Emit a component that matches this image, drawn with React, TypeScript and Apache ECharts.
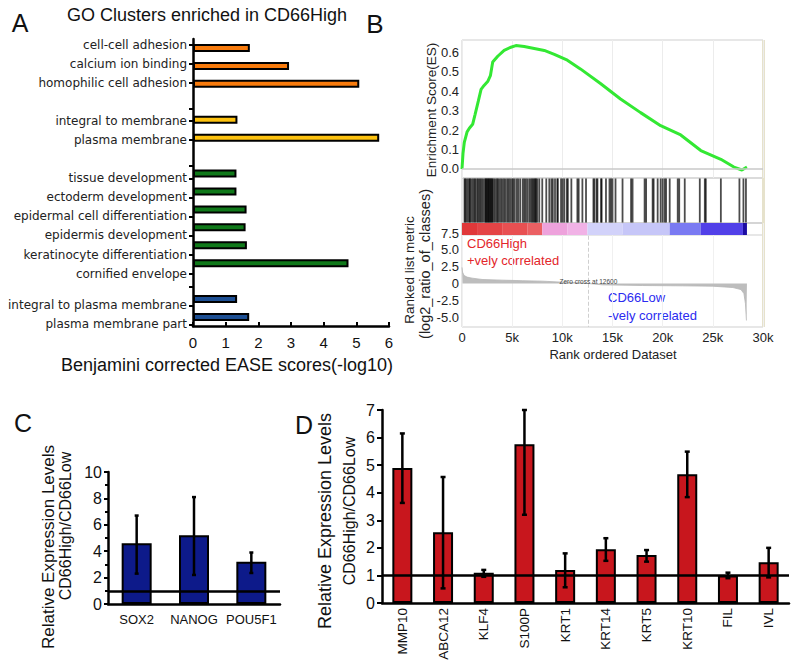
import React, { useEffect, useRef } from 'react';
import * as echarts from 'echarts';

// ---------- Panel A: GO clusters ----------
const goTerms = [
  'cell-cell adhesion', 'calcium ion binding', 'homophilic cell adhesion',
  'integral to membrane', 'plasma membrane',
  'tissue development', 'ectoderm development', 'epidermal cell differentiation',
  'epidermis development', 'keratinocyte differentiation', 'cornified envelope',
  'integral to plasma membrane', 'plasma membrane part',
];
const goScores = [1.74, 2.94, 5.09, 1.36, 5.7, 1.33, 1.33, 1.64, 1.61, 1.65, 4.76, 1.35, 1.72];
const goGroup = [0, 0, 0, 1, 1, 2, 2, 2, 2, 2, 2, 3, 3];
const goGroupColors = ['#f87b0d', '#fdc20f', '#10791a', '#1d4f93'];
const goBarSlots = [0, 1, 2, 4, 5, 7, 8, 9, 10, 11, 12, 14, 15];
const goBarSlotCount = 16;
const goLabelSlots = [0, 3, 6, 12, 15, 21, 24, 27, 30, 33, 36, 41, 44];
const goLabelSlotCount = 45;
const goGapTickSlots = [10, 19, 38];

// ---------- Panel B: GSEA ----------
const esRankK = [0, 0.1, 0.23, 0.5, 0.73, 1.06, 1.3, 1.63, 1.9, 2.2, 2.56, 2.83, 3.06, 3.56, 4.2, 4.8, 5.37, 6.2, 7.2, 8.2, 9.2, 10.5, 11.8, 13.8, 15.8, 17.8, 19.8, 21.8, 23.8, 25.8, 27.1, 27.9, 28.4];
const esValues = [0.0, 0.08, 0.137, 0.19, 0.21, 0.23, 0.28, 0.35, 0.41, 0.43, 0.45, 0.48, 0.55, 0.58, 0.61, 0.625, 0.635, 0.63, 0.62, 0.61, 0.59, 0.56, 0.515, 0.44, 0.36, 0.29, 0.223, 0.175, 0.095, 0.05, 0.01, -0.005, 0.01];
const esTickValues = [0, 0.1, 0.2, 0.3, 0.4, 0.5, 0.6];

const hitRankK = [
  0.25, 0.33, 0.45, 0.6, 0.75, 0.8, 0.95, 1.1, 1.25, 1.33, 1.5, 1.62, 1.75, 1.86, 2.0, 2.15,
  2.3, 2.38, 2.45, 2.52, 2.6, 2.68, 2.75, 2.83, 2.9, 3.0, 3.06, 3.2, 3.35, 3.49, 3.6, 3.75,
  3.9, 4.05, 4.2, 4.35, 4.52, 4.65, 4.8, 4.98, 5.1, 5.25, 5.45, 5.6, 5.8, 6.05, 6.2, 6.35,
  6.51, 6.7, 6.85, 6.98, 7.1, 7.21, 7.3, 7.38, 7.5, 7.7,
  8.0, 8.4, 8.7, 8.91, 9.05, 9.27, 9.5, 9.55, 9.87, 10.03, 10.2, 10.45, 10.55, 10.9, 11.5,
  11.63, 12.0, 12.36, 13.1, 13.2, 13.42, 13.5, 13.86, 13.92, 14.35, 14.7,
  14.85, 15.0, 15.3, 16.0, 16.85, 17.0, 18.2, 18.35, 19.0, 19.1, 19.5, 19.8, 20.0, 20.2,
  20.34, 20.7, 21.5, 21.65, 22.2, 23.7, 24.2, 24.3, 25.8, 27.65, 28.05, 28.3,
];

const bandStartK = [0, 1.5, 4, 6.5, 8, 10.5, 12.5, 16, 20.7, 23.8, 28.0];
const bandEndK = [1.5, 4, 6.5, 8, 10.5, 12.5, 16, 20.7, 23.8, 28.0, 28.4];
const bandColors = ['#e0383a', '#e44446', '#e85052', '#eb6063', '#eea2dc', '#f1b2e6', '#d2d2fa', '#c6c6f8', '#7a7af2', '#5140e8', '#1c0ca2'];

const metricRankK = [0, 0.05, 0.2, 0.5, 1, 2, 4, 6, 8, 10, 12, 12.6, 14, 18, 22, 25, 27, 27.8, 28.1, 28.25, 28.35, 28.4];
const metricValues = [2.4, 1.7, 1.2, 0.95, 0.8, 0.6, 0.5, 0.42, 0.35, 0.2, 0.08, 0, -0.2, -0.3, -0.35, -0.4, -0.6, -0.9, -1.5, -3, -5.5, -5.5];
const metricTickValues = [-5, -2.5, 0, 2.5, 5, 7.5];
const zeroCrossK = 12.6;
const rankTicksK = [0, 5, 10, 15, 20, 25, 30];

// ---------- Panel C ----------
const cGenes = ['SOX2', 'NANOG', 'POU5F1'];
const cMeans = [4.6, 5.2, 3.2];
const cLow = [2.3, 2.2, 2.35];
const cHigh = [6.7, 8.1, 3.9];

// ---------- Panel D ----------
const dGenes = ['MMP10', 'ABCA12', 'KLF4', 'S100P', 'KRT1', 'KRT14', 'KRT5', 'KRT10', 'FIL', 'IVL'];
const dMeans = [4.9, 2.57, 1.1, 5.76, 1.2, 1.95, 1.74, 4.67, 1.0, 1.48];
const dLow = [3.63, 0.53, 0.95, 3.2, 0.57, 1.53, 1.5, 3.84, 0.9, 0.93];
const dHigh = [6.15, 4.57, 1.2, 7.0, 1.8, 2.35, 1.92, 5.49, 1.1, 2.0];

const FONT = 'Liberation Sans, Arial, sans-serif';

function errorRenderer(capHalf: number) {
  return (params: any, api: any) => {
    const i = api.value(0);
    const lo = api.value(1);
    const hi = api.value(2);
    const top = api.coord([i, hi]);
    const bot = api.coord([i, lo]);
    const st = { stroke: '#000', lineWidth: 2.5 };
    return {
      type: 'group',
      children: [
        { type: 'line', shape: { x1: top[0], y1: top[1], x2: bot[0], y2: bot[1] }, style: st },
        { type: 'line', shape: { x1: top[0] - capHalf, y1: top[1], x2: top[0] + capHalf, y2: top[1] }, style: st },
        { type: 'line', shape: { x1: bot[0] - capHalf, y1: bot[1], x2: bot[0] + capHalf, y2: bot[1] }, style: st },
      ],
    };
  };
}

function buildOption() {
  const barCats = Array.from({ length: goBarSlotCount }, (_, s) => 'slot' + s);
  const barData: any[] = Array.from({ length: goBarSlotCount }, () => '-');
  goTerms.forEach((_, i) => {
    barData[goBarSlots[i]] = { value: goScores[i], itemStyle: { color: goGroupColors[goGroup[i]] } };
  });
  const labelCats = Array.from({ length: goLabelSlotCount }, (_, s) => 'l' + s);
  const labelMap: Record<number, string> = {};
  goLabelSlots.forEach((s, i) => (labelMap[s] = goTerms[i]));
  const tickSet = new Set<number>([...goLabelSlots, ...goGapTickSlots]);

  const kFmt = (v: number) => (v === 0 ? '0' : v + 'k');
  const hiddenX = (gi: number, split = false) => ({
    type: 'value', gridIndex: gi, min: 0, max: 30, interval: 5,
    axisLine: { show: false }, axisTick: { show: false }, axisLabel: { show: false },
    splitLine: { show: split, lineStyle: { color: '#ececec', width: 1 } },
  });

  return {
    animation: false,
    textStyle: { fontFamily: FONT },
    grid: [
      { left: 193, top: 39, width: 196, height: 287 },
      { left: 193, top: 41.8, width: 196, height: 285.75 },
      { left: 462, top: 40, width: 301, height: 138, show: true, borderColor: '#cfcfcf', borderWidth: 1 },
      { left: 462, top: 178, width: 301, height: 45, show: true, borderColor: '#cfcfcf', borderWidth: 1 },
      { left: 462, top: 223, width: 301, height: 12, show: true, borderColor: '#cfcfcf', borderWidth: 1 },
      { left: 462, top: 223, width: 301, height: 104, show: true, borderColor: '#cfcfcf', borderWidth: 1 },
      { left: 108, top: 472, width: 172, height: 132 },
      { left: 382, top: 410, width: 407, height: 193 },
    ],
    xAxis: [
      {
        type: 'value', gridIndex: 0, min: 0, max: 6, interval: 1,
        axisLine: { show: true, lineStyle: { color: '#000', width: 2.5 } },
        axisTick: { show: true, inside: true, length: 4, lineStyle: { color: '#000', width: 2 } },
        axisLabel: { fontSize: 15, color: '#111', margin: 9, fontFamily: FONT },
        splitLine: { show: false },
      },
      { type: 'value', gridIndex: 1, min: 0, max: 1, show: false },
      hiddenX(2, true),
      hiddenX(3),
      hiddenX(4),
      {
        type: 'value', gridIndex: 5, min: 0, max: 30, interval: 5,
        axisLine: { show: false }, axisTick: { show: false },
        axisLabel: { fontSize: 13, color: '#222', margin: 4, formatter: kFmt, fontFamily: FONT,
          customValues: rankTicksK },
        splitLine: { show: true, lineStyle: { color: '#f0f0f0' } },
      },
      {
        type: 'category', gridIndex: 6, data: cGenes,
        axisLine: { show: true, lineStyle: { color: '#000', width: 2.5 } },
        axisTick: { show: false },
        axisLabel: { fontSize: 13, color: '#111', margin: 9, interval: 0, fontFamily: FONT },
      },
      {
        type: 'category', gridIndex: 7, data: dGenes,
        axisLine: { show: true, lineStyle: { color: '#000', width: 2.5 } },
        axisTick: { show: false },
        axisLabel: { fontSize: 13.5, color: '#111', margin: 5, rotate: 90, interval: 0, fontFamily: FONT },
      },
    ],
    yAxis: [
      {
        type: 'category', gridIndex: 0, data: barCats, inverse: true,
        axisLine: { show: true, lineStyle: { color: '#000', width: 2.5 } },
        axisTick: { show: false }, axisLabel: { show: false },
      },
      {
        type: 'category', gridIndex: 1, data: labelCats, inverse: true,
        axisLine: { show: false },
        axisTick: {
          show: true, length: 4, alignWithLabel: true,
          interval: (index: number) => tickSet.has(index),
          lineStyle: { color: '#000', width: 2 },
        },
        axisLabel: {
          show: true, interval: 0, margin: 6, fontSize: 12, color: '#222',
          fontFamily: 'DejaVu Sans',
          formatter: (_v: string, index: number) => labelMap[index] ?? '',
        },
      },
      {
        type: 'value', gridIndex: 2, min: -0.0463, max: 0.6636,
        axisLine: { show: false }, axisTick: { show: false },
        axisLabel: { fontSize: 13, color: '#222', margin: 3, customValues: esTickValues,
          formatter: (v: number) => v.toFixed(1), fontFamily: FONT },
        splitLine: { show: false },
      },
      { type: 'value', gridIndex: 3, min: 0, max: 1, show: false },
      { type: 'value', gridIndex: 4, min: 0, max: 1, show: false },
      {
        type: 'value', gridIndex: 5, min: -6.47, max: 9.0,
        axisLine: { show: false }, axisTick: { show: false },
        axisLabel: { fontSize: 13, color: '#222', margin: 3, customValues: metricTickValues,
          formatter: (v: number) => (v === 0 ? '0' : v.toFixed(1)), fontFamily: FONT },
        splitLine: { show: false },
      },
      {
        type: 'value', gridIndex: 6, min: 0, max: 10, interval: 2,
        axisLine: { show: true, lineStyle: { color: '#000', width: 2.5 } },
        axisTick: { show: true, length: 4, lineStyle: { color: '#000', width: 2 } },
        minorTick: { show: true, splitNumber: 2, length: 3, lineStyle: { color: '#000', width: 2 } },
        axisLabel: { fontSize: 16, color: '#111', margin: 6, fontFamily: FONT },
        splitLine: { show: false },
      },
      {
        type: 'value', gridIndex: 7, min: 0, max: 7, interval: 1,
        axisLine: { show: true, lineStyle: { color: '#000', width: 2.5 } },
        axisTick: { show: true, length: 5, lineStyle: { color: '#000', width: 2 } },
        axisLabel: { fontSize: 16, color: '#111', margin: 7, fontFamily: FONT },
        splitLine: { show: false },
      },
    ],
    series: [
      {
        type: 'bar', xAxisIndex: 0, yAxisIndex: 0, data: barData, barWidth: 8,
        itemStyle: { borderColor: '#000', borderWidth: 2 }, silent: true,
      },
      {
        type: 'line', xAxisIndex: 2, yAxisIndex: 2,
        data: esRankK.map((k, i) => [k, esValues[i]]),
        symbol: 'none', lineStyle: { color: '#33e833', width: 3 }, silent: true,
        markLine: {
          silent: true, symbol: ['none', 'none'], label: { show: false },
          lineStyle: { color: '#c8c8c8', width: 1.5, type: 'solid' },
          data: [{ yAxis: 0 }],
        },
      },
      {
        type: 'scatter', xAxisIndex: 3, yAxisIndex: 3,
        data: hitRankK.map((k) => [k, 0.5]),
        symbol: 'rect', symbolSize: [1.8, 44],
        itemStyle: { color: '#000', opacity: 0.7 }, silent: true,
      },
      {
        type: 'custom', xAxisIndex: 4, yAxisIndex: 4,
        data: bandStartK.map((s, i) => [s, bandEndK[i], i]),
        encode: { x: [0, 1] },
        renderItem: (_p: any, api: any) => {
          const a = api.coord([api.value(0), 1]);
          const b = api.coord([api.value(1), 0]);
          return {
            type: 'rect',
            shape: { x: a[0], y: a[1], width: b[0] - a[0], height: b[1] - a[1] },
            style: { fill: bandColors[api.value(2)] },
          };
        },
        silent: true,
      },
      {
        type: 'line', xAxisIndex: 5, yAxisIndex: 5,
        data: metricRankK.map((k, i) => [k, metricValues[i]]),
        symbol: 'none', lineStyle: { color: '#b5b5b5', width: 0.8 },
        areaStyle: { color: '#bdbdbd', opacity: 1 }, silent: true,
        markLine: {
          silent: true, symbol: ['none', 'none'], label: { show: false },
          lineStyle: { color: '#cfcfcf', width: 1, type: 'dashed' },
          data: [[{ coord: [zeroCrossK, 7.1] }, { coord: [zeroCrossK, -6.47] }]],
        },
        markPoint: {
          silent: true,
          data: [{
            coord: [zeroCrossK, 0.3], symbol: 'circle', symbolSize: 1,
            itemStyle: { color: 'rgba(0,0,0,0)' },
            label: { show: true, position: 'inside', formatter: 'Zero cross at 12600', fontSize: 6.5, color: '#444' },
          }],
        },
      },
      {
        type: 'bar', xAxisIndex: 6, yAxisIndex: 6, data: cMeans, barWidth: 30,
        itemStyle: { color: '#0d1a8a', borderColor: '#000', borderWidth: 2 }, silent: true,
        markLine: {
          silent: true, symbol: ['none', 'none'], label: { show: false },
          lineStyle: { color: '#000', width: 2.5, type: 'solid' },
          data: [{ yAxis: 1 }],
        },
      },
      {
        type: 'custom', xAxisIndex: 6, yAxisIndex: 6,
        data: cGenes.map((_, i) => [i, cLow[i], cHigh[i]]),
        encode: { x: 0, y: [1, 2] },
        renderItem: errorRenderer(2),
        silent: true, z: 5,
      },
      {
        type: 'bar', xAxisIndex: 7, yAxisIndex: 7, data: dMeans, barWidth: 20,
        itemStyle: { color: '#c8161d', borderColor: '#000', borderWidth: 2 }, silent: true,
        markLine: {
          silent: true, symbol: ['none', 'none'], label: { show: false },
          lineStyle: { color: '#000', width: 2.5, type: 'solid' },
          data: [{ yAxis: 1 }],
        },
      },
      {
        type: 'custom', xAxisIndex: 7, yAxisIndex: 7,
        data: dGenes.map((_, i) => [i, dLow[i], dHigh[i]]),
        encode: { x: 0, y: [1, 2] },
        renderItem: errorRenderer(2.5),
        silent: true, z: 5,
      },
    ],
    graphic: [
      { type: 'rect', shape: { x: 762, y: 40, width: 3, height: 287 }, style: { fill: '#e6e2cc' }, silent: true },
      { type: 'text', x: 20, y: 23, style: { text: 'A', font: `25px ${FONT}`, fill: '#111', align: 'center', verticalAlign: 'middle' } },
      { type: 'text', x: 375, y: 24, style: { text: 'B', font: `26px ${FONT}`, fill: '#111', align: 'center', verticalAlign: 'middle' } },
      { type: 'text', x: 23, y: 423, style: { text: 'C', font: `25px ${FONT}`, fill: '#111', align: 'center', verticalAlign: 'middle' } },
      { type: 'text', x: 304, y: 425, style: { text: 'D', font: `25px ${FONT}`, fill: '#111', align: 'center', verticalAlign: 'middle' } },
      { type: 'text', x: 207, y: 15, style: { text: 'GO Clusters enriched in CD66High', font: `18px ${FONT}`, fill: '#111', align: 'center', verticalAlign: 'middle' } },
      { type: 'text', x: 227, y: 365, style: { text: 'Benjamini corrected EASE scores(-log10)', font: `18px ${FONT}`, fill: '#111', align: 'center', verticalAlign: 'middle' } },
      { type: 'text', x: 431, y: 110, rotation: Math.PI / 2, style: { text: 'Enrichment Score(ES)', font: `13.5px ${FONT}`, fill: '#222', align: 'center', verticalAlign: 'middle' } },
      { type: 'text', x: 409, y: 270, rotation: Math.PI / 2, style: { text: 'Ranked list metric', font: `13.5px ${FONT}`, fill: '#222', align: 'center', verticalAlign: 'middle' } },
      { type: 'text', x: 425, y: 264, rotation: Math.PI / 2, style: { text: '(log2_ratio_of_classes)', font: `14.5px ${FONT}`, fill: '#222', align: 'center', verticalAlign: 'middle' } },
      { type: 'text', x: 613, y: 354, style: { text: 'Rank ordered Dataset', font: `13px ${FONT}`, fill: '#222', align: 'center', verticalAlign: 'middle' } },
      { type: 'text', x: 467, y: 243, style: { text: 'CD66High', font: `13px ${FONT}`, fill: '#e3262b', align: 'left', verticalAlign: 'middle' } },
      { type: 'text', x: 467, y: 260, style: { text: '+vely correlated', font: `13px ${FONT}`, fill: '#e3262b', align: 'left', verticalAlign: 'middle' } },
      { type: 'text', x: 608, y: 297, style: { text: 'CD66Low', font: `13px ${FONT}`, fill: '#2b2bf0', align: 'left', verticalAlign: 'middle' } },
      { type: 'text', x: 608, y: 315, style: { text: '-vely correlated', font: `13px ${FONT}`, fill: '#2b2bf0', align: 'left', verticalAlign: 'middle' } },
      { type: 'text', x: 48, y: 547, rotation: Math.PI / 2, style: { text: 'Relative Expression Levels', font: `17px ${FONT}`, fill: '#111', align: 'center', verticalAlign: 'middle' } },
      { type: 'text', x: 65, y: 526, rotation: Math.PI / 2, style: { text: 'CD66High/CD66Low', font: `16px ${FONT}`, fill: '#111', align: 'center', verticalAlign: 'middle' } },
      { type: 'text', x: 325, y: 521, rotation: Math.PI / 2, style: { text: 'Relative Expression Levels', font: `18px ${FONT}`, fill: '#111', align: 'center', verticalAlign: 'middle' } },
      { type: 'text', x: 349, y: 511, rotation: Math.PI / 2, style: { text: 'CD66High/CD66Low', font: `16px ${FONT}`, fill: '#111', align: 'center', verticalAlign: 'middle' } },
    ],
  };
}

export default function App() {
  const ref = useRef<HTMLDivElement>(null);
  useEffect(() => {
    if (!ref.current) return;
    const chart = echarts.init(ref.current, null, { renderer: 'svg' });
    chart.setOption(buildOption() as any);
    return () => chart.dispose();
  }, []);
  return (
    <div
      ref={ref}
      style={{ position: 'fixed', left: 0, top: 0, width: 800, height: 668, background: '#fff' }}
    />
  );
}
